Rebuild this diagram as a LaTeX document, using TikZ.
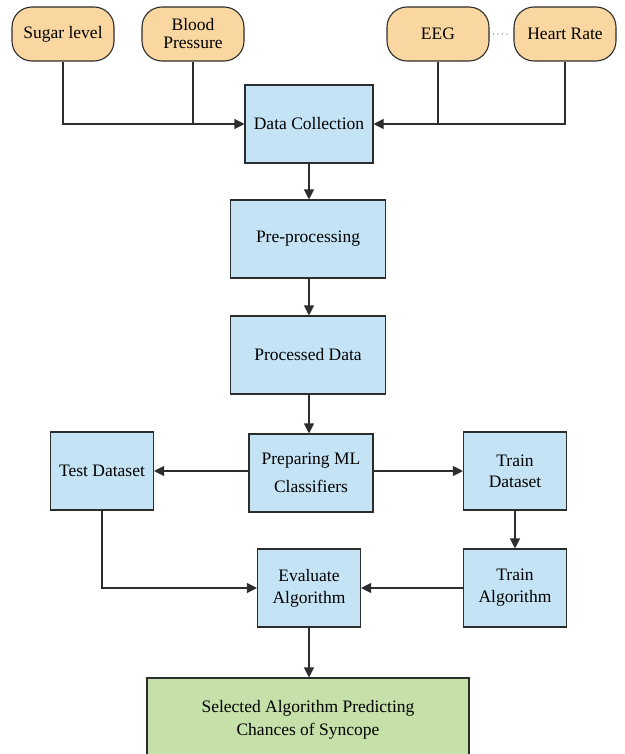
\documentclass[tikz,border=0pt]{standalone}
\usepackage{fontspec}
\setmainfont{Liberation Serif}
\usetikzlibrary{arrows.meta}
\definecolor{pill}{RGB}{250,215,160}
\definecolor{boxblue}{RGB}{196,227,245}
\definecolor{boxgreen}{RGB}{198,224,169}
\definecolor{edge}{RGB}{45,45,45}
\tikzset{
  pillbox/.style={draw=edge, line width=1.1pt, fill=pill, rounded corners=20pt, minimum width=102pt, minimum height=54pt, inner sep=0pt, align=center, font=\fontsize{17.5}{18}\selectfont},
  bluebox/.style={draw=edge, line width=1.1pt, fill=boxblue, minimum width=#1, minimum height=78pt, inner sep=0pt, align=center, font=\fontsize{17.5}{28}\selectfont},
  bluebox/.default=103pt,
  conn/.style={draw=edge, line width=1.1pt, -{Triangle[length=10pt,width=10pt]}},
  plain/.style={draw=edge, line width=1.1pt}
}
\begin{document}
\begin{tikzpicture}[x=1pt,y=-1pt]
\useasboundingbox (0,0) rectangle (624,754);
\node[pillbox] (sugar) at (63,34) {Sugar level};
\node[pillbox] (bp) at (193,34) {Blood\\Pressure};
\node[pillbox] (eeg) at (438,34) {EEG};
\node[pillbox] (hr) at (565,34) {Heart Rate};
\draw[line cap=round, line width=1.2pt, dash pattern=on 0pt off 4.5pt, draw=edge!80] ([xshift=4pt]eeg.east) -- ([xshift=-3pt]hr.west);

\node[bluebox=128pt] (dc) at (309,124) {Data Collection};
\node[bluebox=155pt] (pre) at (308,239) {Pre-processing};
\node[bluebox=155pt] (proc) at (308,355) {Processed Data};
\node[bluebox=124pt, text depth=0pt] (prep) at (311,473) {Preparing ML\\Classifiers};
\node[bluebox] (test) at (102,471) {Test Dataset};
\node[bluebox, font=\fontsize{17.5}{21}\selectfont] (trainds) at (515,471) {Train\\Dataset};
\node[bluebox, font=\fontsize{17.5}{22}\selectfont] (eval) at (309,588) {Evaluate\\Algorithm};
\node[bluebox, font=\fontsize{17.5}{22}\selectfont] (trainalg) at (515,588) {Train\\Algorithm};
\node[draw=edge, line width=1.1pt, fill=boxgreen, minimum width=322pt, minimum height=84pt, inner sep=0pt, align=center, font=\fontsize{17.5}{23}\selectfont] (sel) at (308,720) {Selected Algorithm Predicting\\Chances of Syncope};

\coordinate (j1) at (193,124);
\coordinate (j2) at (438,124);
\draw[plain] (sugar.south) |- (j1);
\draw[plain] (bp.south) -- (j1);
\draw[conn] (j1) -- (dc.west);
\draw[plain] (hr.south) |- (j2);
\draw[plain] (eeg.south) -- (j2);
\draw[conn] (j2) -- (dc.east);

\draw[conn] (dc) -- (dc |- pre.north);
\draw[conn] (pre.south -| dc) -- (dc |- proc.north);
\draw[conn] (proc.south -| dc) -- (dc |- prep.north);
\draw[conn] (prep.west |- test) -- (test.east);
\draw[conn] (prep.east |- trainds) -- (trainds.west);
\draw[conn] (trainds) -- (trainalg.north);
\draw[conn] (trainalg) -- (eval.east);
\draw[conn] (test.south) |- (eval.west);
\draw[conn] (eval) -- (eval |- sel.north);
\end{tikzpicture}
\end{document}
